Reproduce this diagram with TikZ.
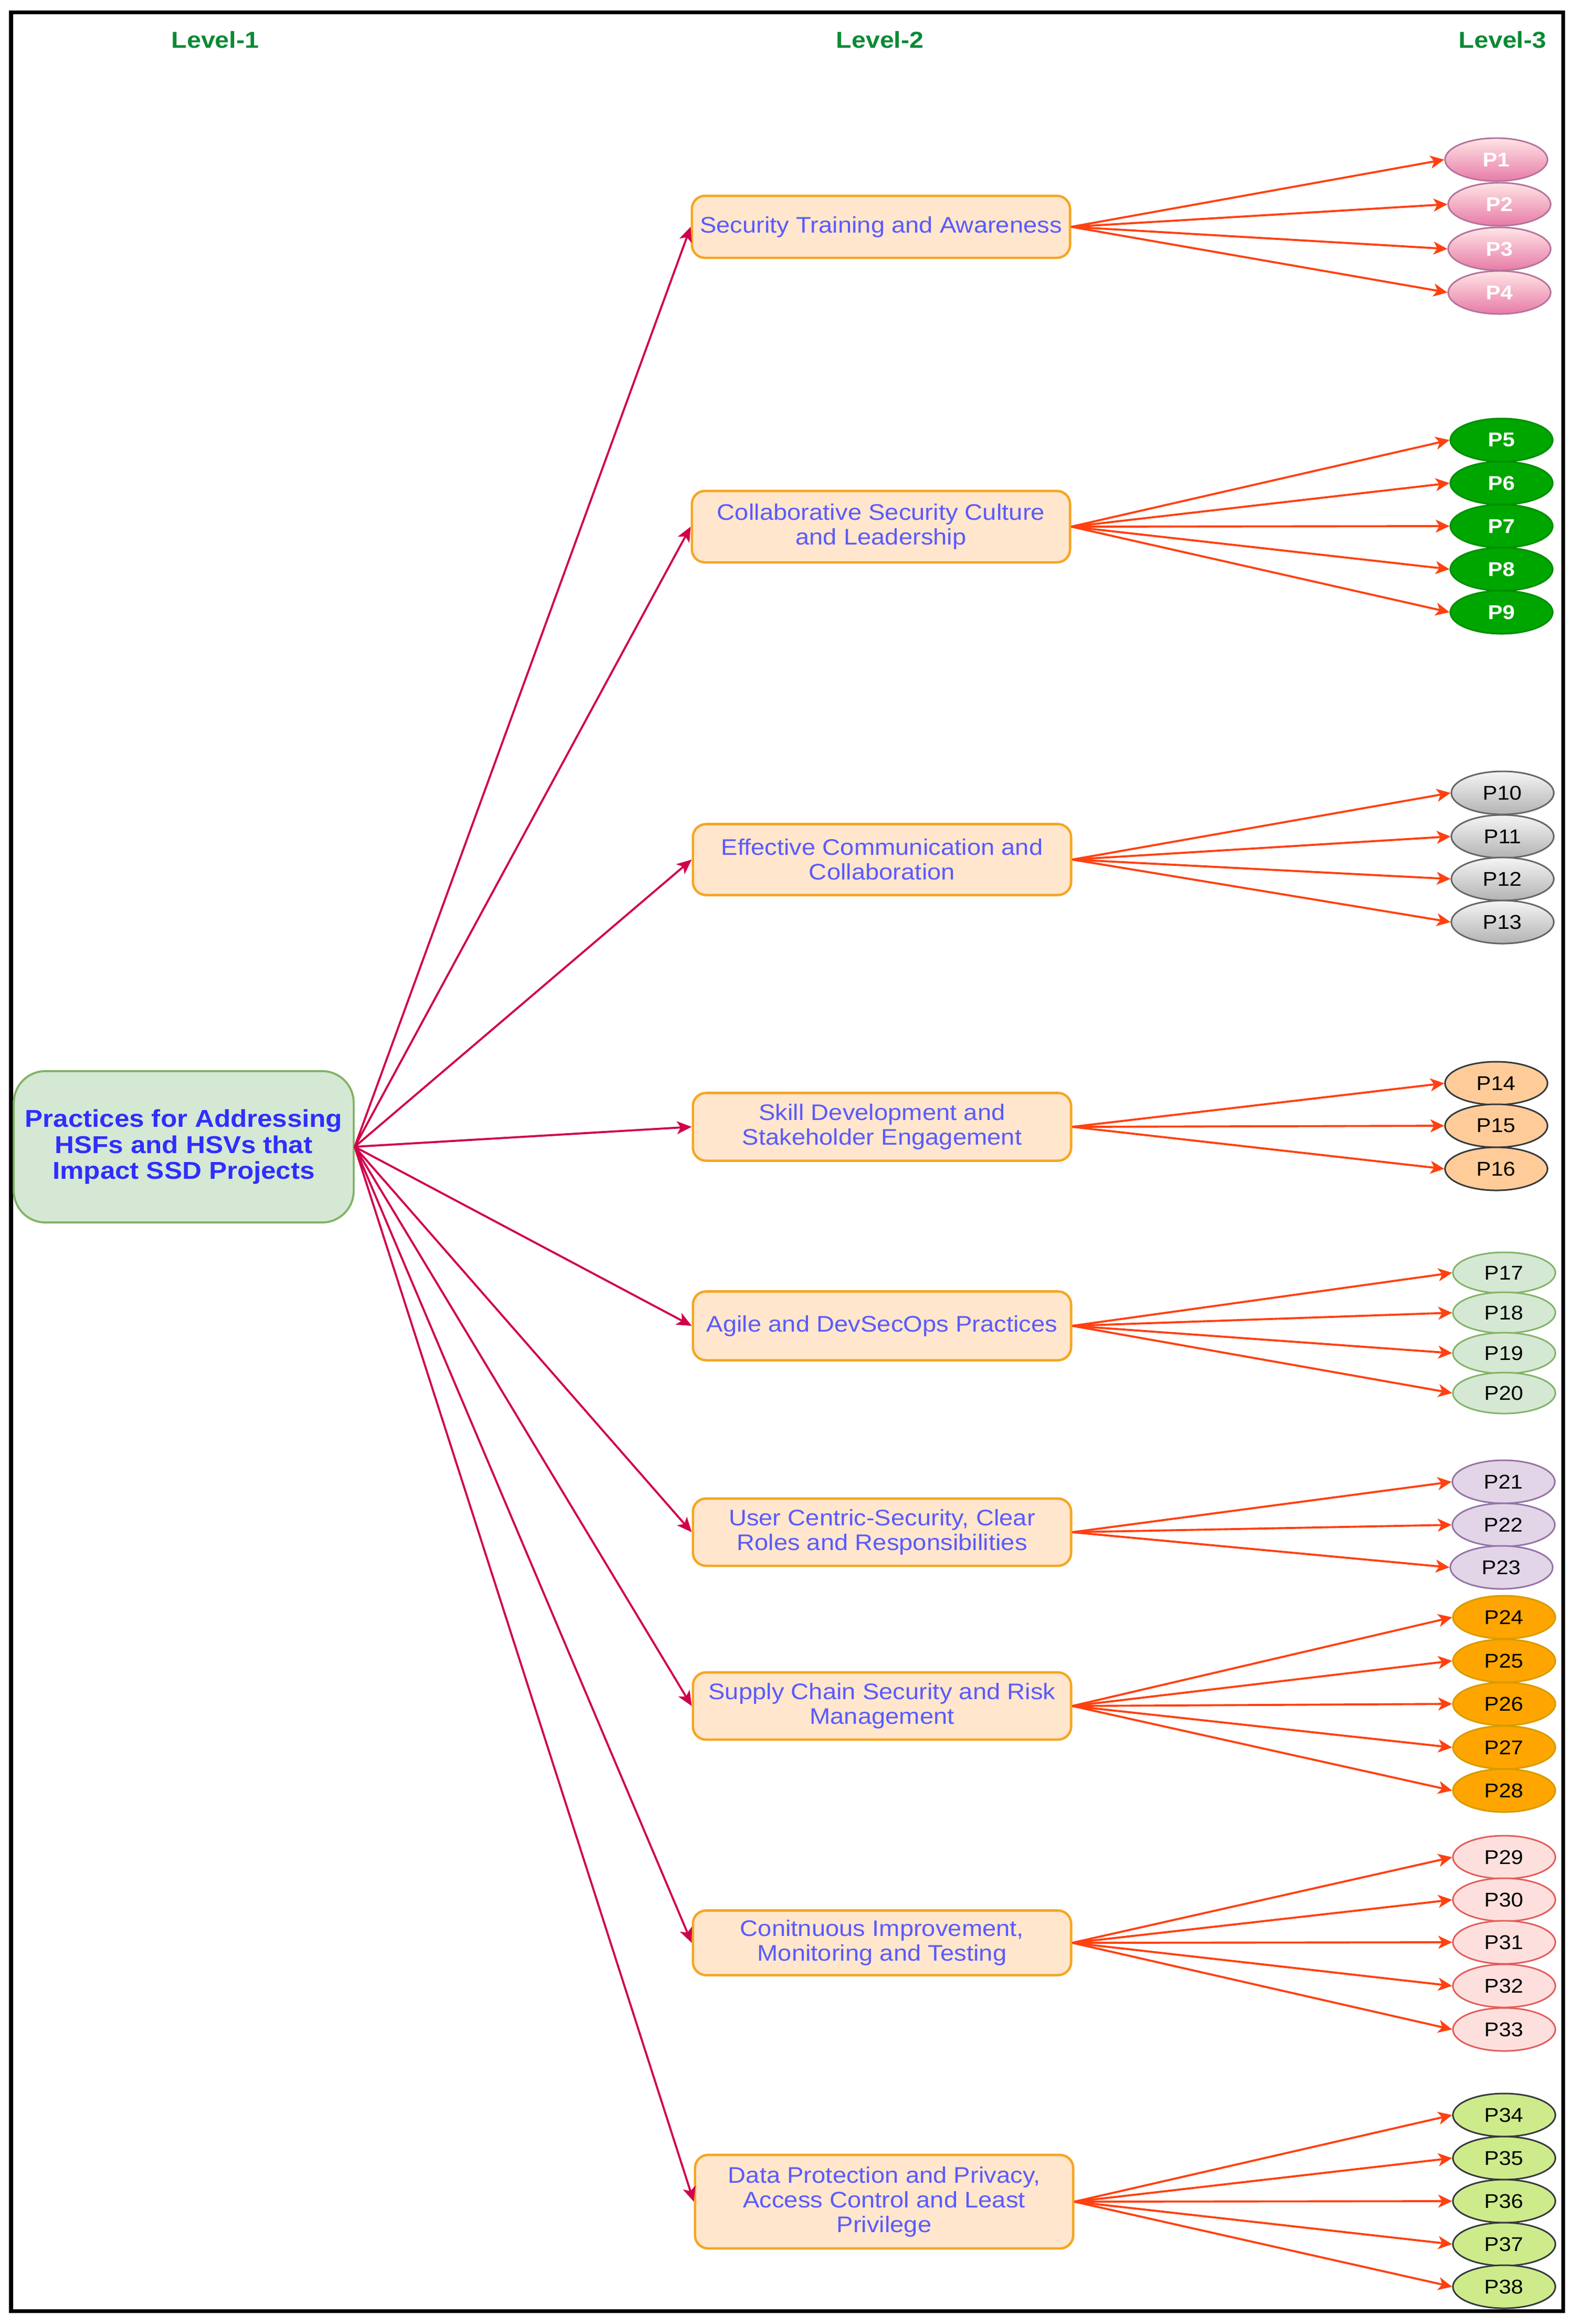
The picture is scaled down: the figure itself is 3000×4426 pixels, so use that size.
\documentclass[tikz,border=0pt]{standalone}
\usepackage{fontspec}
\setmainfont{Liberation Sans}[FakeStretch=1.1]
\usetikzlibrary{shapes.geometric,arrows.meta}

\definecolor{lvlgreen}{HTML}{0A8A35}
\definecolor{hubfill}{HTML}{D5E8D4}
\definecolor{hubdraw}{HTML}{82B366}
\definecolor{hubtext}{HTML}{2E2EFF}
\definecolor{catfill}{HTML}{FFE6CC}
\definecolor{catdraw}{HTML}{F5A623}
\definecolor{cattext}{HTML}{5A5AFF}
\definecolor{hubline}{HTML}{D0004A}
\definecolor{catline}{HTML}{FF4010}

\tikzset{
  lvltxt/.style={text=lvlgreen, font=\bfseries\fontsize{12.5pt}{15pt}\selectfont},
  hubbox/.style={draw=hubdraw, fill=hubfill, line width=1.1pt, rounded corners=0.6cm,
    minimum width=6.47cm, minimum height=2.88cm, align=center, text=hubtext,
    font=\bfseries\fontsize{13.2pt}{14pt}\selectfont},
  catbox/.style={draw=catdraw, fill=catfill, line width=1.3pt, rounded corners=0.25cm,
    minimum width=7.2cm, minimum height=1.3cm, inner sep=0pt, align=center, text=cattext,
    font=\fontsize{12.2pt}{13.4pt}\selectfont},
  pell/.style={ellipse, draw, line width=0.85pt, minimum width=1.95cm, minimum height=0.82cm,
    inner sep=0pt, font=\fontsize{10.8pt}{12pt}\selectfont},
  pinkp/.style={pell, top color=pink!40!white, bottom color={rgb,255:red,231;green,123;blue,167},
    draw={rgb,255:red,181;green,115;blue,157}, text=white, font=\fontsize{10.8pt}{12pt}\selectfont\bfseries},
  greenp/.style={pell, fill={rgb,255:red,0;green,166;blue,0}, draw={rgb,255:red,0;green,143;blue,0},
    text=white, font=\fontsize{10.8pt}{12pt}\selectfont\bfseries},
  grayp/.style={pell, top color={rgb,255:red,245;green,245;blue,245}, bottom color={rgb,255:red,179;green,179;blue,179},
    draw={rgb,255:red,102;green,102;blue,102}},
  peachp/.style={pell, fill={rgb,255:red,255;green,204;blue,153}, draw={rgb,255:red,54;green,57;blue,61}},
  mintp/.style={pell, fill={rgb,255:red,213;green,232;blue,212}, draw={rgb,255:red,130;green,179;blue,102}, minimum height=0.78cm},
  lilacp/.style={pell, fill={rgb,255:red,225;green,213;blue,231}, draw={rgb,255:red,150;green,115;blue,166}},
  orangep/.style={pell, fill={rgb,255:red,255;green,165;blue,0}, draw={rgb,255:red,215;green,155;blue,0}},
  rosep/.style={pell, fill={rgb,255:red,253;green,224;blue,221}, draw={rgb,255:red,227;green,93;blue,91}},
  limep/.style={pell, fill={rgb,255:red,205;green,235;blue,139}, draw={rgb,255:red,54;green,57;blue,61}},
  hubarrow/.style={draw=hubline, line width=1.1pt, -{Stealth[length=8pt,width=7pt,inset=2pt]}},
  catarrow/.style={draw=catline, line width=1.1pt, -{Stealth[length=7.5pt,width=7pt,inset=2pt]}},
}

\begin{document}
\begin{tikzpicture}[x=0.01cm,y=-0.01cm]
        \useasboundingbox (0,0) rectangle (3000,4426);
        % frame
        \fill[black, even odd rule] (17,20) rectangle (2981,4405) (25,27) rectangle (2974,4398);

        % level headings
        \node[lvltxt] (l1) at (410,76) {Level-1};
        \node[lvltxt] (l2) at (1676,76) {Level-2};
        \node[lvltxt] (l3) at (2862,76) {Level-3};

        % level 1
        \node[hubbox] (hub) at (350,2184) {Practices for Addressing\\HSFs and HSVs that\\Impact SSD Projects};

        % level 2
        \node[catbox, minimum height=1.18cm] (c1) at (1678,432) {Security Training and Awareness};
        \node[catbox, minimum height=1.36cm] (c2) at (1678,1003) {Collaborative Security Culture\\and Leadership};
        \node[catbox, minimum height=1.35cm] (c3) at (1680,1637) {Effective Communication and\\Collaboration};
        \node[catbox, minimum height=1.29cm] (c4) at (1680,2146) {Skill Development and\\Stakeholder Engagement};
        \node[catbox, minimum height=1.31cm] (c5) at (1680,2525) {Agile and DevSecOps Practices};
        \node[catbox, minimum height=1.28cm] (c6) at (1680,2918) {User Centric-Security, Clear\\Roles and Responsibilities};
        \node[catbox, minimum height=1.28cm] (c7) at (1680,3249) {Supply Chain Security and Risk\\Management};
        \node[catbox, minimum height=1.23cm] (c8) at (1680,3700) {Conitnuous Improvement,\\Monitoring and Testing};
        \node[catbox, minimum height=1.78cm] (c9) at (1684,4193) {Data Protection and Privacy,\\Access Control and Least\\Privilege};

        % level 3
        \node[pinkp] (p1) at (2850,304) {P1};
        \node[pinkp] (p2) at (2856,389) {P2};
        \node[pinkp] (p3) at (2856,474) {P3};
        \node[pinkp] (p4) at (2856,557) {P4};
        \node[greenp] (p5) at (2860,838) {P5};
        \node[greenp] (p6) at (2860,920) {P6};
        \node[greenp] (p7) at (2860,1002) {P7};
        \node[greenp] (p8) at (2860,1084) {P8};
        \node[greenp] (p9) at (2860,1166) {P9};
        \node[grayp] (p10) at (2862,1510) {P10};
        \node[grayp] (p11) at (2862,1593) {P11};
        \node[grayp] (p12) at (2862,1674) {P12};
        \node[grayp] (p13) at (2862,1756) {P13};
        \node[peachp] (p14) at (2850,2063) {P14};
        \node[peachp] (p15) at (2850,2144) {P15};
        \node[peachp] (p16) at (2850,2226) {P16};
        \node[mintp] (p17) at (2865,2424) {P17};
        \node[mintp] (p18) at (2865,2500) {P18};
        \node[mintp] (p19) at (2865,2577) {P19};
        \node[mintp] (p20) at (2865,2653) {P20};
        \node[lilacp] (p21) at (2864,2822) {P21};
        \node[lilacp] (p22) at (2864,2904) {P22};
        \node[lilacp] (p23) at (2860,2985) {P23};
        \node[orangep] (p24) at (2865,3080) {P24};
        \node[orangep] (p25) at (2865,3163) {P25};
        \node[orangep] (p26) at (2865,3245) {P26};
        \node[orangep] (p27) at (2865,3328) {P27};
        \node[orangep] (p28) at (2865,3410) {P28};
        \node[rosep] (p29) at (2865,3537) {P29};
        \node[rosep] (p30) at (2865,3618) {P30};
        \node[rosep] (p31) at (2865,3699) {P31};
        \node[rosep] (p32) at (2865,3782) {P32};
        \node[rosep] (p33) at (2865,3865) {P33};
        \node[limep] (p34) at (2865,4028) {P34};
        \node[limep] (p35) at (2865,4110) {P35};
        \node[limep] (p36) at (2865,4192) {P36};
        \node[limep] (p37) at (2865,4274) {P37};
        \node[limep] (p38) at (2865,4355) {P38};

        % connectors
        \begin{scope}[every edge/.style=hubarrow]
        \path (hub.east) edge (c1.west) edge (c2.west) edge (c3.west) edge (c4.west)
            edge (c5.west) edge (c6.west) edge (c7.west) edge (c8.west) edge (c9.west);
        \end{scope}
        \begin{scope}[every edge/.style=catarrow]
        \path (c1.east) edge (p1.west) edge (p2.west) edge (p3.west) edge (p4.west);
        \path (c2.east) edge (p5.west) edge (p6.west) edge (p7.west) edge (p8.west) edge (p9.west);
        \path (c3.east) edge (p10.west) edge (p11.west) edge (p12.west) edge (p13.west);
        \path (c4.east) edge (p14.west) edge (p15.west) edge (p16.west);
        \path (c5.east) edge (p17.west) edge (p18.west) edge (p19.west) edge (p20.west);
        \path (c6.east) edge (p21.west) edge (p22.west) edge (p23.west);
        \path (c7.east) edge (p24.west) edge (p25.west) edge (p26.west) edge (p27.west) edge (p28.west);
        \path (c8.east) edge (p29.west) edge (p30.west) edge (p31.west) edge (p32.west) edge (p33.west);
        \path (c9.east) edge (p34.west) edge (p35.west) edge (p36.west) edge (p37.west) edge (p38.west);
        \end{scope}
\end{tikzpicture}
\end{document}
